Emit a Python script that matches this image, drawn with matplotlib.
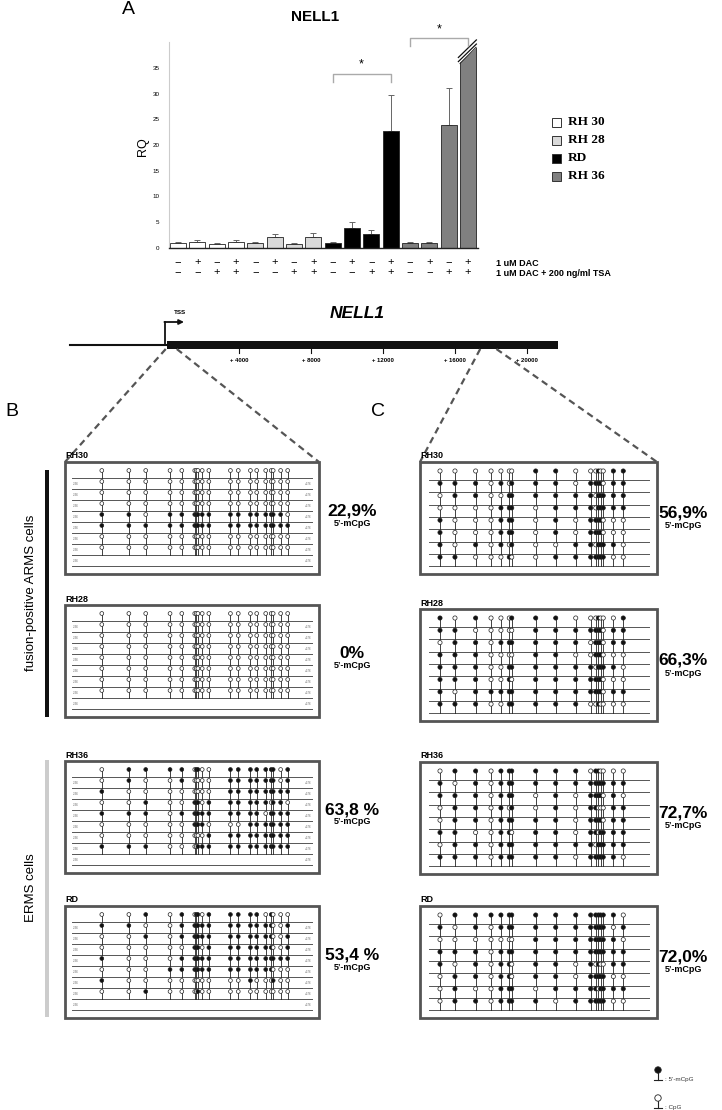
import numpy as np
import matplotlib
matplotlib.use("Agg")
import matplotlib.pyplot as plt
from matplotlib.patches import Rectangle, Polygon, Circle
from matplotlib.transforms import blended_transform_factory

plt.rcParams['font.family'] = ['Liberation Sans', 'DejaVu Sans']

W, H = 722, 1110

# ---------------- panel A: qPCR data ----------------
cells = ['RH 30', 'RH 28', 'RD', 'RH 36']
cell_colors = ['#ffffff', '#d9d9d9', '#000000', '#808080']
rq_rh30 = [0.9, 1.2, 0.8, 1.2]
rq_rh28 = [0.9, 2.1, 0.8, 2.2]
rq_rd = [0.9, 3.9, 2.7, 22.8]
rq_rh36 = [0.9, 0.9, 23.9, 39.0]
err_rh30 = [0.3, 0.4, 0.2, 0.4]
err_rh28 = [0.3, 0.7, 0.2, 0.7]
err_rd = [0.3, 1.2, 0.8, 6.9]
err_rh36 = [0.3, 0.3, 7.2, 0.0]
dac = ['−', '+', '−', '+'] * 4
dac_tsa = ['−', '−', '+', '+'] * 4
treat_labels = ['1 uM DAC', '1 uM DAC + 200 ng/ml TSA']
yticks_a = [0, 5, 10, 15, 20, 25, 30, 35]

# ---------------- gene map ----------------
gene_start, gene_end = -5400, 21700
gene_ticks = [4000, 8000, 12000, 16000, 20000]
region_b = (-236, 376)
region_c = (17400, 18300)

# ---------------- bisulfite panels ----------------
# CpG positions (bp) in the promoter amplicon (-236..+376)
cpg_b = [-160, -91, -48, 14, 44, 77, 81, 85, 96, 113, 168, 188, 219, 235,
         258, 272, 277, 296, 314]
# CpG positions (relative, 0..1) in the intragenic amplicon
cpg_c = [0.05, 0.118, 0.212, 0.282, 0.327, 0.365, 0.376, 0.485, 0.576,
         0.667, 0.735, 0.758, 0.77, 0.78, 0.792, 0.838, 0.883]

b_rh30 = ['0000000000000000000', '0000000000000000000', '0000000000000000000',
          '0000000000000000000', '1101111111111111110', '1111111111111111111',
          '0000000000000000000', '0000000000000000000']
b_rh28 = ['0000000000000000000'] * 8
b_rh36 = ['0111101100111111101', '0100100000111111101', '1000000000111111111',
          '0010011101111110110', '1110111111111101111', '0000011110001111111',
          '0000000001111111111', '1110000111111111111']
b_rd = ['0010101101111101000', '1100111111111111001', '0010111111111111001',
        '0000011101111111001', '1000111111111111111', '0001111111111111000',
        '1000000000001000100', '0010000100000000000']
c_rh30 = ['00000001100010011', '11101011101111011', '01100111111011111',
          '00001110111011111', '10001110101111000', '10001110101111000',
          '10101010011011110', '11000100111111100']
c_rh28 = ['10100011100010001', '11000001111111011', '01101111110111011',
          '11100001100111000', '11100111111011110', '11100101111111000',
          '10111111111111011', '11100111110010000']
c_rh36 = ['01101111110110000', '10101111111111111', '11101110101111010',
          '01101010101100011', '01101111101111011', '11001101101101111',
          '01101111111011111', '11101111101111110']
c_rd = ['01111111111111110', '10101111111111101', '00000001111111110',
        '11101111111111111', '10101101101010011', '01101101101111100',
        '01001110111101111', '01101111011111100']
panel_names = ['RH30', 'RH28', 'RH36', 'RD']
pct_b = ['22,9%', '0%', '63,8 %', '53,4 %']
pct_c = ['56,9%', '66,3%', '72,7%', '72,0%']

fig = plt.figure(figsize=(W / 100, H / 100), dpi=100)
ov = fig.add_axes([0, 0, 1, 1], zorder=0)
ov.set_xlim(0, W)
ov.set_ylim(H, 0)
ov.axis('off')

# ---------------- bar chart ----------------
axA = fig.add_axes([169 / W, 1 - 248 / H, (478 - 169) / W, (248 - 42) / H], zorder=2)
axA.patch.set_alpha(0)
vals = rq_rh30 + rq_rh28 + rq_rd + rq_rh36
errs = err_rh30 + err_rh28 + err_rd + err_rh36
cols = [c for c in cell_colors for _ in range(4)]
xb = np.arange(len(vals))
bw = 0.83
axA.bar(xb, vals, width=bw, color=cols, edgecolor='#222222', linewidth=0.6, zorder=2)
axA.errorbar(xb, vals, yerr=[np.zeros(len(errs)), errs], fmt='none',
             ecolor='#666666', elinewidth=0.7, capsize=2, capthick=0.7, zorder=1)
axA.set_xlim(-0.47, 15.52)
axA.set_ylim(0, 40)
axA.set_xticks([])
axA.set_yticks(yticks_a)
axA.tick_params(axis='y', length=0, labelsize=4.5, pad=7)
for s in ['top', 'right']:
    axA.spines[s].set_visible(False)
axA.spines['left'].set_color('#cccccc')
axA.spines['left'].set_linewidth(0.8)
axA.spines['bottom'].set_color('#222222')
axA.spines['bottom'].set_linewidth(1.0)
axA.text(-0.085, 0.49, 'RQ', transform=axA.transAxes, rotation=90,
         ha='center', va='center', fontsize=9)

# broken top of the last bar
xl, xr = xb[-1] - bw / 2, xb[-1] + bw / 2
axA.add_patch(Polygon([(xl - 0.05, 35.8), (xr + 0.05, 39.0), (xr + 0.05, 41),
                       (xl - 0.05, 41)], closed=True, fc='white', ec='none',
                      zorder=3, clip_on=False))
axA.plot([xl, xr], [35.8, 39.0], color='#222222', lw=0.6, zorder=4, clip_on=False)
for off in (0.7, 1.5):
    axA.plot([xl - 0.08, xr + 0.02], [35.5 + off, 38.9 + off], color='#111111',
             lw=0.9, zorder=4, clip_on=False)

# significance brackets
for (i0, i1, yb, ys) in [(8, 11, 33.7, 35.6), (12, 15, 40.8, 42.5)]:
    axA.plot([i0, i0, i1, i1], [yb - 1.5, yb, yb, yb - 1.5], color='#aaaaaa',
             lw=1.0, clip_on=False, zorder=5)
    axA.text((i0 + i1) / 2, ys, '*', ha='center', va='center', fontsize=9,
             clip_on=False)

# treatment sign rows
tr = blended_transform_factory(axA.transData, axA.transAxes)
for i in range(len(vals)):
    axA.text(xb[i], -0.068, dac[i], transform=tr, ha='center', va='center', fontsize=8)
    axA.text(xb[i], -0.118, dac_tsa[i], transform=tr, ha='center', va='center', fontsize=8)
ov.text(496, 263, treat_labels[0], ha='left', va='center', fontsize=6.5, fontweight='bold')
ov.text(496, 274, treat_labels[1], ha='left', va='center', fontsize=6.5, fontweight='bold')

ov.text(128, 10, 'A', ha='center', va='center', fontsize=14)
ov.text(315, 17, 'NELL1', ha='center', va='center', fontsize=11, fontweight='bold')

# legend
for k, (name, c) in enumerate(zip(cells, cell_colors)):
    yy = 122 + k * 18
    ov.add_patch(Rectangle((552, yy - 4.5), 9, 9, fc=c, ec='#333333', lw=0.7))
    ov.text(568, yy, name, ha='left', va='center', fontsize=9.5, fontweight='bold',
            family=['Liberation Serif', 'DejaVu Serif'])

# ---------------- gene map ----------------
x_tss, px_bp = 167, 72 / 4000


def gx(bp):
    return x_tss + bp * px_bp


y_gene = 345
ov.plot([gx(gene_start), gx(0)], [y_gene, y_gene], color='#111111', lw=1.5)
ov.add_patch(Rectangle((gx(0), y_gene - 4), gx(gene_end) - gx(0), 8, fc='#111111', ec='none'))
ov.plot([gx(0) - 2, gx(0) - 2], [y_gene, 322], color='#111111', lw=1.3)
ov.annotate('', xy=(gx(0) + 17, 322), xytext=(gx(0) - 2.6, 322),
            arrowprops=dict(arrowstyle='-|>', color='#111111', lw=1.3,
                            mutation_scale=7, shrinkA=0, shrinkB=0))
ov.text(gx(0) + 13, 312, 'TSS', ha='center', va='center', fontsize=4.5, fontweight='bold')
ov.text(357, 313, 'NELL1', ha='center', va='center', fontsize=12.5,
        fontweight='bold', style='italic')
for t in gene_ticks:
    ov.plot([gx(t), gx(t)], [y_gene + 4, y_gene + 8], color='#111111', lw=0.8)
    ov.text(gx(t), 361, f'+ {t}', ha='center', va='center', fontsize=4.3, fontweight='bold')

# ---------------- bisulfite panels ----------------
b_x0, b_x1 = 65, 319
c_x0, c_x1 = 420, 657
b_tops = [462, 605, 761, 906]
c_tops = [462, 609, 762, 906]
box_h = 112
dash_kw = dict(color='#555555', lw=1.6, ls=(0, (3, 2)))
ov.plot([gx(region_b[0]) + 3, b_x0], [y_gene + 4, b_tops[0]], **dash_kw)
ov.plot([gx(region_b[1]) + 3, b_x1], [y_gene + 4, b_tops[0]], **dash_kw)
ov.plot([gx(region_c[0]), c_x0], [y_gene + 4, c_tops[0]], **dash_kw)
ov.plot([gx(region_c[1]), c_x1], [y_gene + 4, c_tops[0]], **dash_kw)


def lollipops(x0, x1, y_first, dy, n_lines, sites, rows, stem, r, labels=False):
    for k in range(n_lines):
        yl = y_first + k * dy
        ov.plot([x0, x1], [yl, yl], color='#555555', lw=0.7, zorder=2)
        if labels and k > 0:
            ov.text(x0 + 1, yl - 5, f'{region_b[0]}', fontsize=2.2, color='#666666',
                    ha='left', va='center')
            ov.text(x1 - 1, yl - 5, f'+{region_b[1]}', fontsize=2.2, color='#666666',
                    ha='right', va='center')
    for i, row in enumerate(rows):
        yl = y_first + i * dy
        for f, m in zip(sites, row):
            x = x0 + f * (x1 - x0)
            ov.plot([x, x], [yl, yl - stem], color='#222222', lw=0.6, zorder=3)
            ov.add_patch(Circle((x, yl - stem), r, fc='#111111' if m == '1' else 'white',
                                ec='#222222', lw=0.5, zorder=4))


b_rows = [b_rh30, b_rh28, b_rh36, b_rd]
c_rows = [c_rh30, c_rh28, c_rh36, c_rd]
b_frac = [(p - region_b[0]) / (region_b[1] - region_b[0]) for p in cpg_b]
for k in range(4):
    # panel B
    top = b_tops[k]
    ov.add_patch(Rectangle((b_x0, top), b_x1 - b_x0, box_h, fc='white',
                           ec='#555555', lw=2, zorder=1))
    ov.text(b_x0, top - 6, panel_names[k], ha='left', va='center', fontsize=6.5,
            fontweight='bold', zorder=5)
    lollipops(b_x0 + 7, b_x1 - 7, top + 16, 11, 9, b_frac, b_rows[k], 7.5, 1.9, labels=True)
    cy = top + box_h / 2
    ov.text(352, cy - 7, pct_b[k], ha='center', va='center', fontsize=12.5, fontweight='bold')
    ov.text(352, cy + 5, '5’-mCpG', ha='center', va='center', fontsize=6.5, fontweight='bold')
    # panel C
    top = c_tops[k]
    ov.add_patch(Rectangle((c_x0, top), c_x1 - c_x0, box_h, fc='white',
                           ec='#555555', lw=2, zorder=1))
    ov.text(c_x0, top - 6, panel_names[k], ha='left', va='center', fontsize=6.5,
            fontweight='bold', zorder=5)
    lollipops(c_x0 + 9, c_x1 - 8, top + 18, 12.3, 8, cpg_c, c_rows[k], 9, 2.1)
    cy = top + box_h / 2
    ov.text(683, cy - 5, pct_c[k], ha='center', va='center', fontsize=12.5, fontweight='bold')
    ov.text(683, cy + 8, '5’-mCpG', ha='center', va='center', fontsize=6.5, fontweight='bold')

ov.text(12, 412, 'B', ha='center', va='center', fontsize=14)
ov.text(378, 412, 'C', ha='center', va='center', fontsize=14)

# side groups
ov.add_patch(Rectangle((45, 470), 4, 247, fc='#111111', ec='none'))
ov.text(31, 593, 'fusion-positive ARMS cells', rotation=90, ha='center', va='center',
        fontsize=9.5)
ov.add_patch(Rectangle((45, 760), 4, 257, fc='#cccccc', ec='none'))
ov.text(31, 888, 'ERMS cells', rotation=90, ha='center', va='center', fontsize=9.5)

# symbol key
for yc, fc, lab in [(1070, '#111111', ': 5’-mCpG'), (1098, 'white', ': CpG')]:
    ov.plot([658, 658], [yc, yc + 10], color='#222222', lw=0.8)
    ov.plot([654, 662], [yc + 10, yc + 10], color='#222222', lw=0.8)
    ov.add_patch(Circle((658, yc), 3.2, fc=fc, ec='#222222', lw=0.6, zorder=4))
    ov.text(665, yc + 10, lab, ha='left', va='center', fontsize=4.5, color='#333333')

fig.savefig('out.png', dpi=100)
